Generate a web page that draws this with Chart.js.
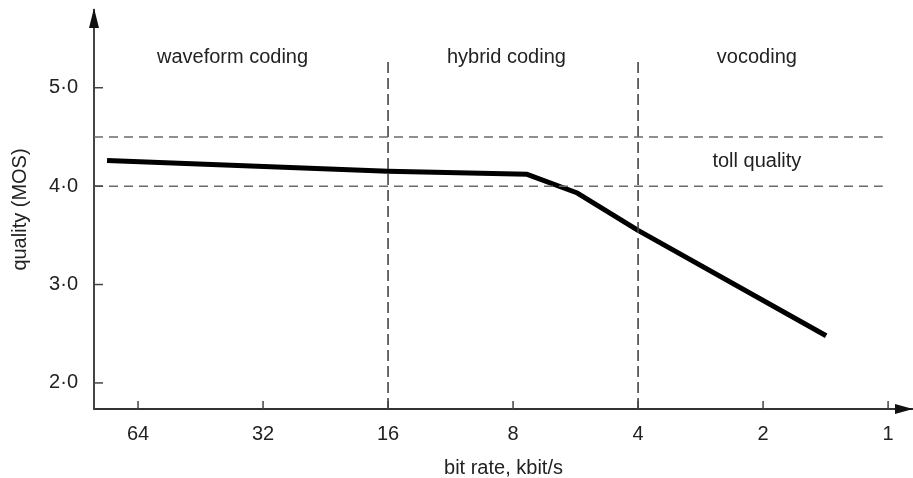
<!DOCTYPE html>
<html>
<head>
<meta charset="utf-8">
<script src="https://cdn.jsdelivr.net/npm/chart.js@4"></script>
<style>
  html, body { margin: 0; padding: 0; background: #fff; }
  #wrap { width: 913px; height: 478px; }
</style>
</head>
<body>
<div id="wrap"><canvas id="chart" width="913" height="478"></canvas></div>
<script>
// bit rate in kbit/s (log axis, decreasing to the right) and quality in MOS
const rateTicks = [64, 32, 16, 8, 4, 2, 1];
const mosTicks = [2, 3, 4, 5];
const curveRates = [76, 16, 7.4, 5.6, 4, 1.41];
const curveMos = [4.26, 4.15, 4.12, 3.93, 3.55, 2.48];
const tollBands = [4.5, 4.0];
const tollRange = [81.7, 1.03];
const dividerRates = [16, 4];
const dividerRange = [1.735, 5.27];
const regionNames = ['waveform coding', 'hybrid coding', 'vocoding', 'toll quality'];
const regionRates = [37.9, 8.3, 2.07, 2.07];
const regionMos = [5.31, 5.31, 5.31, 4.25];

const FONT = '"Liberation Sans", Arial, sans-serif';
const INK = '#222';

const datasets = [];
tollBands.forEach(v => {
    datasets.push({
        data: tollRange.map(r => ({ x: r, y: v })),
        borderColor: '#6a6a6a', borderWidth: 1.5, borderDash: [9, 6],
        pointRadius: 0, showLine: true
    });
});
dividerRates.forEach(r => {
    datasets.push({
        data: dividerRange.map(v => ({ x: r, y: v })),
        borderColor: '#444', borderWidth: 1.6, borderDash: [11, 5],
        pointRadius: 0, showLine: true
    });
});
datasets.push({
    data: curveRates.map((r, i) => ({ x: r, y: curveMos[i] })),
    borderColor: '#000', borderWidth: 5, borderJoinStyle: 'round',
    pointRadius: 0, showLine: true
});

const decorations = {
    id: 'decorations',
    afterDraw(chart) {
        const ctx = chart.ctx;
        const xs = chart.scales.x, ys = chart.scales.y;
        const area = chart.chartArea;
        ctx.save();
        // inward tick marks
        ctx.strokeStyle = '#444';
        ctx.lineWidth = 1.5;
        rateTicks.forEach(r => {
            const px = xs.getPixelForValue(r);
            ctx.beginPath();
            ctx.moveTo(px, area.bottom);
            ctx.lineTo(px, area.bottom - 8);
            ctx.stroke();
        });
        mosTicks.forEach(v => {
            const py = ys.getPixelForValue(v);
            ctx.beginPath();
            ctx.moveTo(area.left, py);
            ctx.lineTo(area.left + 9, py);
            ctx.stroke();
        });
        // arrowheads
        ctx.fillStyle = '#111';
        ctx.beginPath();
        ctx.moveTo(area.left, area.top - 2);
        ctx.lineTo(area.left - 5, area.top + 18);
        ctx.lineTo(area.left + 5, area.top + 18);
        ctx.closePath();
        ctx.fill();
        ctx.beginPath();
        ctx.moveTo(area.right, area.bottom);
        ctx.lineTo(area.right - 18, area.bottom - 5);
        ctx.lineTo(area.right - 18, area.bottom + 5);
        ctx.closePath();
        ctx.fill();
        // region labels
        ctx.fillStyle = INK;
        ctx.font = '20px ' + FONT;
        ctx.textAlign = 'center';
        ctx.textBaseline = 'middle';
        regionNames.forEach((t, i) => {
            ctx.fillText(t, xs.getPixelForValue(regionRates[i]), ys.getPixelForValue(regionMos[i]));
        });
        ctx.restore();
    }
};

new Chart(document.getElementById('chart').getContext('2d'), {
    type: 'scatter',
    data: { datasets: datasets },
    options: {
        responsive: false,
        animation: false,
        layout: { padding: { left: 0, right: 0, top: 10, bottom: 0 } },
        plugins: { legend: { display: false }, tooltip: { enabled: false } },
        scales: {
            x: {
                type: 'logarithmic',
                reverse: true,
                min: 0.871,
                max: 81.7,
                afterBuildTicks: axis => { axis.ticks = rateTicks.map(v => ({ value: v })); },
                afterFit: axis => {
                    axis.height = 69;
                    axis.paddingLeft = 0;
                    axis.paddingRight = 0;
                },
                grid: { display: false, drawTicks: false },
                border: { display: true, color: '#333', width: 2 },
                ticks: {
                    autoSkip: false, maxRotation: 0, padding: 13, color: INK,
                    font: { family: FONT, size: 20 },
                    callback: v => String(v)
                },
                title: {
                    display: true, text: 'bit rate, kbit/s', color: INK,
                    font: { family: FONT, size: 20, lineHeight: 1 },
                    padding: { top: 0, bottom: 0 }
                }
            },
            y: {
                min: 1.735,
                max: 5.79,
                afterBuildTicks: axis => { axis.ticks = mosTicks.map(v => ({ value: v })); },
                afterFit: axis => {
                    axis.width = 94;
                    axis.paddingTop = 0;
                    axis.paddingBottom = 0;
                },
                grid: { display: false, drawTicks: false },
                border: { display: true, color: '#444', width: 2 },
                ticks: {
                    padding: 16, color: INK,
                    font: { family: FONT, size: 20 },
                    callback: v => v.toFixed(1).replace('.', '·')
                },
                title: {
                    display: true, text: 'quality (MOS)', color: INK,
                    font: { family: FONT, size: 20, lineHeight: 1 },
                    padding: { top: 10, bottom: 0 }
                }
            }
        }
    },
    plugins: [decorations]
});
</script>
</body>
</html>
